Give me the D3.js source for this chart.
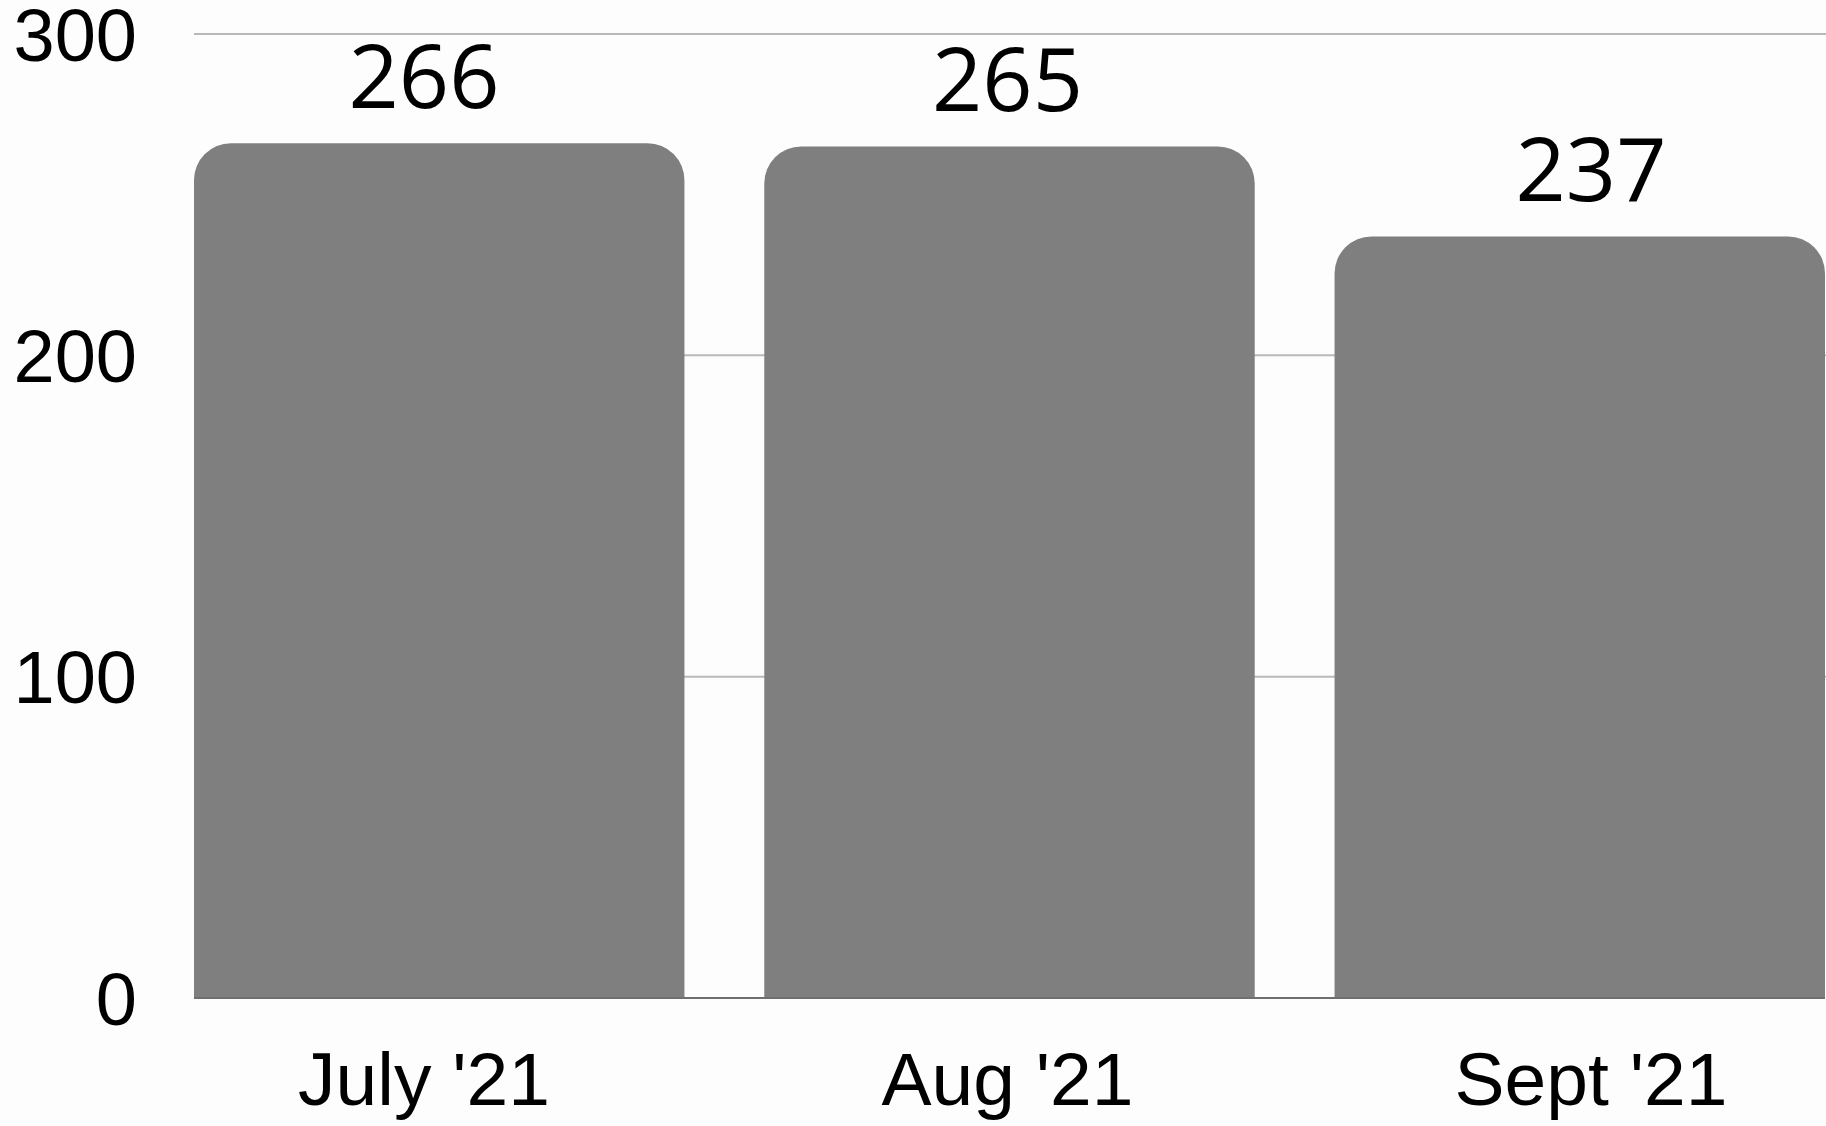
<!DOCTYPE html>
<html lang="en">
<head>
  <meta charset="UTF-8">
  <title>Monthly totals</title>
  <style>
  html, body {
    margin: 0;
    padding: 0;
    background: #fdfdfd;
  }
  #chart svg {
    display: block;
  }
  </style>
</head>
<body>
  <div id="chart"></div>
  <script src="https://cdn.jsdelivr.net/npm/d3@7"></script>
  <script>
    // data
    const months = ["July '21", "Aug '21", "Sept '21"];
    const totals = [266, 265, 237];
    const yTicks = [0, 100, 200, 300];

    const width = 1826, height = 1126;
    const margin = {top: 34, right: 1, bottom: 128, left: 194};

    const svg = d3.select('#chart').append('svg')
      .attr('width', width)
      .attr('height', height);

    const x = d3.scaleBand()
      .domain(months)
      .range([margin.left, width - margin.right])
      .paddingInner(0.14)
      .paddingOuter(0);

    // the labels sit on their own, slightly wider spacing
    const xl = d3.scalePoint()
      .domain(months)
      .range([424, 1591]);

    const y = d3.scaleLinear()
      .domain([0, 300])
      .range([height - margin.bottom, margin.top]);

    // gridlines (behind bars)
    svg.append('g')
      .selectAll('line')
      .data(yTicks.filter(d => d > 0))
      .join('line')
      .attr('x1', margin.left)
      .attr('x2', width)
      .attr('y1', d => y(d))
      .attr('y2', d => y(d))
      .attr('stroke', '#b9b9b9')
      .attr('stroke-width', 2);

    // y tick labels
    svg.append('g')
      .selectAll('text')
      .data(yTicks)
      .join('text')
      .attr('x', margin.left - 57)
      .attr('y', d => y(d))
      .attr('dy', '0.36em')
      .attr('text-anchor', 'end')
      .attr('font-family', '"Liberation Sans", Arial, sans-serif')
      .attr('font-size', 74)
      .attr('fill', '#000')
      .text(d => d);

    // bars with rounded top corners only
    const r = 37;
    function topRounded(x0, y0, w, y1) {
      const p = d3.path();
      p.moveTo(x0, y1);
      p.lineTo(x0, y0 + r);
      p.arcTo(x0, y0, x0 + r, y0, r);
      p.lineTo(x0 + w - r, y0);
      p.arcTo(x0 + w, y0, x0 + w, y0 + r, r);
      p.lineTo(x0 + w, y1);
      p.closePath();
      return p.toString();
    }

    const rows = months.map((m, i) => ({month: m, value: totals[i]}));

    svg.append('g')
      .selectAll('path')
      .data(rows)
      .join('path')
      .attr('d', d => topRounded(x(d.month), y(d.value), x.bandwidth(), y(0)))
      .attr('fill', '#7f7f7f');

    // baseline
    svg.append('line')
      .attr('x1', margin.left)
      .attr('x2', width - margin.right)
      .attr('y1', y(0))
      .attr('y2', y(0))
      .attr('stroke', '#6f6f6f')
      .attr('stroke-width', 2);

    // value labels
    svg.append('g')
      .selectAll('text')
      .data(rows)
      .join('text')
      .attr('x', d => xl(d.month))
      .attr('y', d => y(d.value) - 35)
      .attr('text-anchor', 'middle')
      .attr('font-family', '"Open Sans", "Noto Sans", sans-serif')
      .attr('font-size', 88)
      .attr('fill', '#000')
      .text(d => d.value);

    // x labels
    svg.append('g')
      .selectAll('text')
      .data(months)
      .join('text')
      .attr('x', d => xl(d))
      .attr('y', 1105)
      .attr('text-anchor', 'middle')
      .attr('font-family', '"Liberation Sans", Arial, sans-serif')
      .attr('font-size', 75)
      .attr('fill', '#000')
      .text(d => d);
  </script>
</body>
</html>
